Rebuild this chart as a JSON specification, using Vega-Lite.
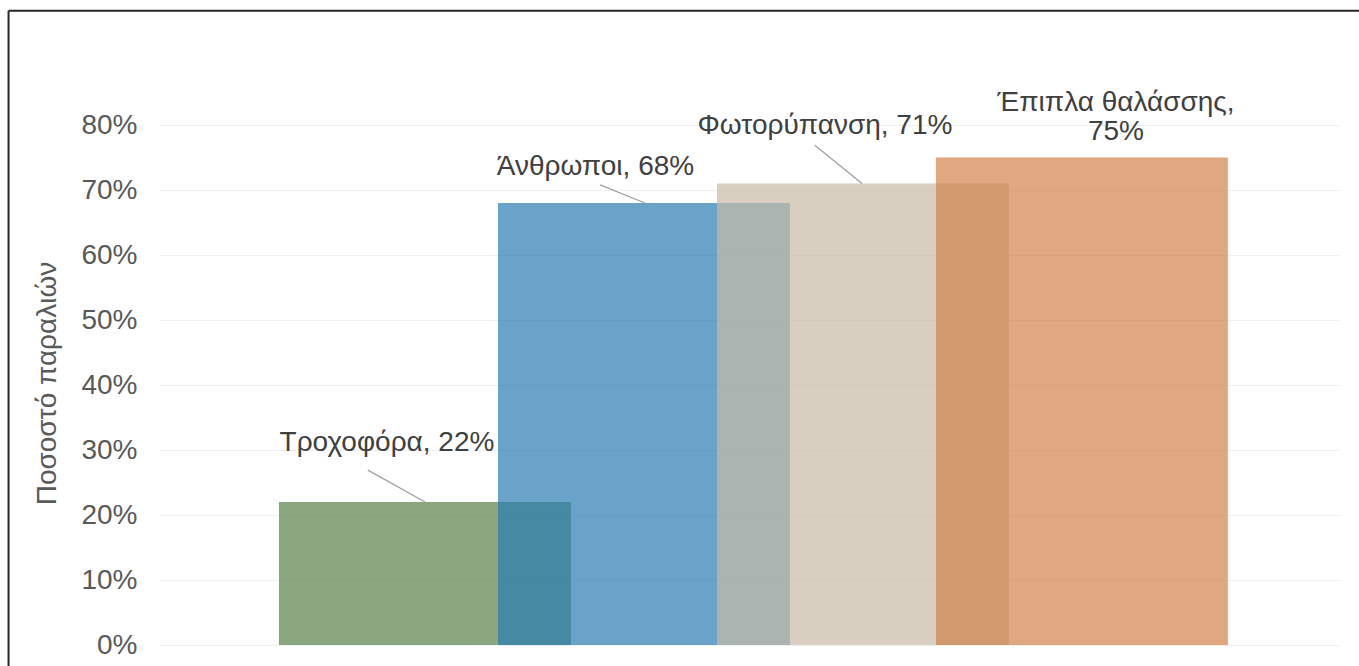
{
  "$schema": "https://vega.github.io/schema/vega-lite/v6.json",
  "width": 1180,
  "height": 520,
  "autosize": "none",
  "padding": {"left": 160, "top": 125, "right": 19, "bottom": 21},
  "background": "white",
  "config": {
    "view": {"stroke": null},
    "font": "Liberation Sans",
    "axis": {"labelFont": "Liberation Sans", "titleFont": "Liberation Sans"}
  },
  "datasets": {
    "bars": [
      {"cat": "Τροχοφόρα", "value": 22, "start": 0.5, "end": 1.833},
      {"cat": "Άνθρωποι", "value": 68, "start": 1.5, "end": 2.833},
      {"cat": "Φωτορύπανση", "value": 71, "start": 2.5, "end": 3.833},
      {"cat": "Έπιπλα θαλάσσης", "value": 75, "start": 3.5, "end": 4.833}
    ],
    "labels": [
      {"text": "Τροχοφόρα, 22%", "lx": 0.993, "ly": 31.1},
      {"text": "Άνθρωποι, 68%", "lx": 1.945, "ly": 73.6},
      {"text": "Φωτορύπανση, 71%", "lx": 2.993, "ly": 79.8},
      {"text": "Έπιπλα θαλάσσης,", "lx": 4.322, "ly": 83.4},
      {"text": "75%", "lx": 4.322, "ly": 79.0}
    ],
    "leaders": [
      {"x1": 0.906, "y1": 26.9, "x2": 1.167, "y2": 22},
      {"x1": 1.966, "y1": 70.8, "x2": 2.171, "y2": 68},
      {"x1": 2.947, "y1": 76.9, "x2": 3.162, "y2": 71}
    ],
    "frame": [
      {"edge": "top", "fx": -0.735, "fx2": 5.45, "fy": 97.58, "fy2": 97.58},
      {"edge": "left", "fx": -0.735, "fx2": -0.735, "fy": 97.58, "fy2": -3.3}
    ]
  },
  "layer": [
    {
      "data": {"name": "bars"},
      "mark": {"type": "bar", "fillOpacity": 0.7, "strokeWidth": 0},
      "encoding": {
        "x": {
          "field": "start", "type": "quantitative",
          "scale": {"domain": [-0.0434, 5.345], "nice": false, "zero": false},
          "axis": null
        },
        "x2": {"field": "end"},
        "y": {
          "field": "value", "type": "quantitative",
          "scale": {"domain": [0, 80], "nice": false},
          "axis": {
            "values": [0, 10, 20, 30, 40, 50, 60, 70, 80],
            "labelExpr": "datum.value + '%'",
            "labelFontSize": 28,
            "labelColor": "#595959",
            "labelPadding": 23,
            "ticks": false,
            "domain": false,
            "grid": true,
            "gridColor": "#efefef",
            "gridWidth": 1,
            "title": "Ποσοστό παραλιών",
            "titleFontSize": 28,
            "titleFontWeight": "normal",
            "titleColor": "#595959",
            "titleAngle": -90,
            "titleAlign": "center",
            "titleBaseline": "middle",
            "titleX": -113,
            "titleY": 258
          }
        },
        "y2": {"datum": 0},
        "color": {
          "field": "cat", "type": "nominal",
          "scale": {
            "domain": ["Τροχοφόρα", "Άνθρωποι", "Φωτορύπανση", "Έπιπλα θαλάσσης"],
            "range": ["#59814a", "#2a7cb2", "#c7baa6", "#d3834c"]
          },
          "legend": null
        }
      }
    },
    {
      "data": {"name": "leaders"},
      "mark": {"type": "rule", "color": "#a0a0a0", "strokeWidth": 1.3},
      "encoding": {
        "x": {"field": "x1", "type": "quantitative"},
        "y": {"field": "y1", "type": "quantitative"},
        "x2": {"field": "x2"},
        "y2": {"field": "y2"}
      }
    },
    {
      "data": {"name": "labels"},
      "mark": {"type": "text", "fontSize": 28, "color": "#404040", "align": "center", "baseline": "middle", "font": "Liberation Sans"},
      "encoding": {
        "x": {"field": "lx", "type": "quantitative"},
        "y": {"field": "ly", "type": "quantitative"},
        "text": {"field": "text"}
      }
    },
    {
      "data": {"name": "frame"},
      "mark": {"type": "rule", "color": "#262626", "strokeWidth": 2, "clip": false},
      "encoding": {
        "x": {"field": "fx", "type": "quantitative"},
        "x2": {"field": "fx2"},
        "y": {"field": "fy", "type": "quantitative"},
        "y2": {"field": "fy2"}
      }
    }
  ]
}
